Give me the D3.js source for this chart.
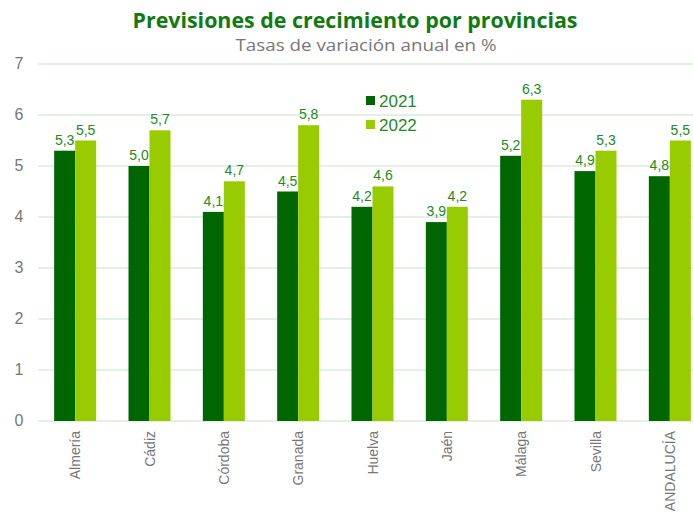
<!DOCTYPE html>
<html><head><meta charset="utf-8">
<script src="https://d3js.org/d3.v7.min.js"></script>
<style>body{margin:0;background:#fff}svg{display:block}</style>
</head><body><svg id="chart"></svg>
<script>
const provincias=['Almería','Cádiz','Córdoba','Granada','Huelva','Jaén','Málaga','Sevilla','ANDALUCÍA'];
const series=['2021','2022'];
const v2021=[5.3,5.0,4.1,4.5,4.2,3.9,5.2,4.9,4.8];
const v2022=[5.5,5.7,4.7,5.8,4.6,4.2,6.3,5.3,5.5];
const yTicks=[0,1,2,3,4,5,6,7];
const colors=['#006600','#99cc00'];

const W=693,H=519;
const svg=d3.select('#chart').attr('width',W).attr('height',H);
const x=d3.scaleBand().domain(provincias).range([38,707]);
const y=d3.scaleLinear().domain([0,7]).range([421,64]);
const bw=21;
const fmt=d=>d3.format('.1f')(d).replace('.',',');

svg.append('text').attr('x',355).attr('y',28).attr('text-anchor','middle')
  .attr('font-family','Open Sans').attr('font-weight','bold').attr('font-size',22)
  .attr('fill','#117a11').attr('textLength',445).attr('lengthAdjust','spacingAndGlyphs')
  .text('Previsiones de crecimiento por provincias');
svg.append('text').attr('x',366).attr('y',51).attr('text-anchor','middle')
  .attr('font-family','Open Sans').attr('font-size',17).attr('fill','#777')
  .attr('textLength',261).attr('lengthAdjust','spacingAndGlyphs')
  .text('Tasas de variación anual en %');

// grid
svg.append('g').selectAll('line').data(yTicks).join('line')
  .attr('x1',38).attr('x2',W).attr('y1',d=>y(d)).attr('y2',d=>y(d))
  .attr('stroke','#dcebdc').attr('stroke-width',1.5);
svg.append('g').selectAll('text').data(yTicks).join('text')
  .attr('x',19).attr('y',d=>y(d)+5).attr('text-anchor','middle')
  .attr('font-family','Liberation Sans').attr('font-size',16).attr('fill','#777').text(d=>d);

const data=[v2021,v2022];
data.forEach((vals,si)=>{
  const g=svg.append('g');
  g.selectAll('rect').data(vals).join('rect')
    .attr('x',(d,i)=>x(provincias[i])+x.bandwidth()/2-bw+si*bw)
    .attr('width',bw).attr('y',d=>y(d)).attr('height',d=>y(0)-y(d))
    .attr('fill',colors[si]);
  g.selectAll('text').data(vals).join('text')
    .attr('x',(d,i)=>x(provincias[i])+x.bandwidth()/2-bw/2+si*bw)
    .attr('y',d=>y(d)-6).attr('text-anchor','middle')
    .attr('font-family','Liberation Sans').attr('font-size',14).attr('fill','#228b22')
    .text(fmt);
});

// x labels
svg.append('g').selectAll('text').data(provincias).join('text')
  .attr('transform',d=>`translate(${x(d)+x.bandwidth()/2+5},431) rotate(-90)`)
  .attr('text-anchor','end').attr('font-family','Liberation Sans').attr('font-size',14)
  .attr('fill','#777').text(d=>d);

// legend
const leg=svg.append('g').selectAll('g').data(series).join('g')
  .attr('transform',(d,i)=>`translate(366,${96+i*24})`);
leg.append('rect').attr('width',9).attr('height',9).attr('fill',(d,i)=>colors[i]);
leg.append('text').attr('x',13).attr('y',11).attr('font-family','Liberation Sans')
  .attr('font-size',17).attr('fill','#228b22').text(d=>d);
</script></body></html>
